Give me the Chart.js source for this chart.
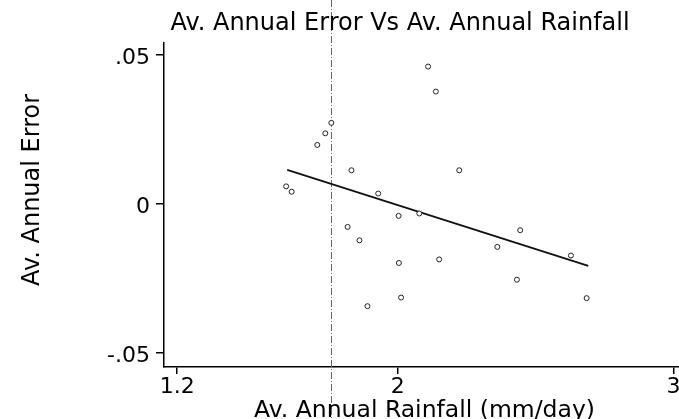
<!DOCTYPE html>
<html>
<head>
<meta charset="utf-8">
<script src="https://cdn.jsdelivr.net/npm/chart.js@4.4.1/dist/chart.umd.min.js"></script>
<style>
  html, body { margin: 0; padding: 0; background: #fff; }
  #wrap { width: 679px; height: 419px; position: relative; }
</style>
</head>
<body>
<div id="wrap"><canvas id="chartE"></canvas></div>
<script>
'use strict'

// values
let rainfall = [2.110, 2.138, 1.759, 1.737, 1.708, 1.832, 2.223, 1.595, 1.615, 1.929, 2.003, 2.078,
                1.818, 1.861, 2.004, 2.150, 1.890, 2.012, 2.444, 2.361, 2.432, 2.628, 2.685];
let annualError = [0.0461, 0.0377, 0.0272, 0.0237, 0.0198, 0.0113, 0.0113, 0.0059, 0.0041, 0.0035, -0.0040, -0.0032,
                   -0.0077, -0.0122, -0.0198, -0.0186, -0.0343, -0.0314, -0.0088, -0.0144, -0.0254, -0.0173, -0.0316];

// fitted line (end points) and the dashed reference line
let fitX = [1.599, 2.691];
let fitY = [0.0114, -0.0208];
let refX = 1.757;

// ticks
let xTicks = [1.2, 2, 3];
let xTickLabels = ['1.2', '2', '3'];
let yTicks = [-0.05, 0, 0.05];
let yTickLabels = ['-.05', '0', '.05'];

// texts
let titulo = 'Av. Annual Error Vs Av. Annual Rainfall';
let xTitulo = 'Av. Annual Rainfall (mm/day)';
let yTitulo = 'Av. Annual Error';

Chart.defaults.font.family = '"DejaVu Sans", sans-serif';
Chart.defaults.color = '#000';

let puntos = rainfall.map(function (v, i) { return { x: v, y: annualError[i] }; });
let recta = fitX.map(function (v, i) { return { x: v, y: fitY[i] }; });

// vertical dash-dot line across the whole picture
const lineaRef = {
    id: 'lineaRef',
    beforeDatasetsDraw(chart) {
        const ctx = chart.ctx;
        const px = Math.round(chart.scales.x.getPixelForValue(refX)) + 0.5;
        ctx.save();
        ctx.strokeStyle = '#666';
        ctx.lineWidth = 1;
        ctx.setLineDash([7, 2, 1, 2]);
        ctx.beginPath();
        ctx.moveTo(px, 0);
        ctx.lineTo(px, chart.height);
        ctx.stroke();
        ctx.restore();
    }
};

// title and axis titles
const textos = {
    id: 'textos',
    afterDraw(chart) {
        const ctx = chart.ctx;
        const area = chart.chartArea;
        ctx.save();
        ctx.fillStyle = '#000';
        ctx.textAlign = 'center';
        ctx.textBaseline = 'alphabetic';

        ctx.font = '24px "DejaVu Sans"';
        ctx.fillText(titulo, 400, 30);

        ctx.font = '23.5px "DejaVu Sans"';
        ctx.fillText(xTitulo, (area.left + area.right) / 2 + 3, 417);

        ctx.translate(39, 190);
        ctx.rotate(-Math.PI / 2);
        ctx.font = '24px "DejaVu Sans"';
        ctx.fillText(yTitulo, 0, 0);
        ctx.restore();
    }
};

const ctx = document.getElementById('chartE').getContext('2d');
const myChart = new Chart(ctx, {
    type: 'scatter',
    data: {
        datasets: [{
            label: 'error',
            data: puntos,
            pointStyle: 'circle',
            pointRadius: 2.5,
            borderWidth: 1,
            borderColor: '#222',
            backgroundColor: '#fff'
        }, {
            type: 'line',
            label: 'fit',
            data: recta,
            showLine: true,
            pointRadius: 0,
            borderColor: '#111',
            borderWidth: 1.8,
            fill: false
        }]
    },
    plugins: [lineaRef, textos],
    options: {
        responsive: true,
        maintainAspectRatio: false,
        devicePixelRatio: 1,
        animation: false,
        layout: {
            autoPadding: false,
            padding: { top: 43, left: 0, right: 0, bottom: 0 }
        },
        plugins: {
            legend: { display: false },
            tooltip: { enabled: false },
            title: { display: false }
        },
        scales: {
            x: {
                type: 'linear',
                min: 1.152,
                max: 3.02,
                afterBuildTicks: function (scale) {
                    scale.ticks = xTicks.map(function (v) { return { value: v }; });
                },
                afterFit: function (scale) {
                    scale.height = 52;
                    scale.paddingLeft = 0;
                    scale.paddingRight = 0;
                },
                ticks: {
                    font: { size: 22 },
                    padding: 0,
                    maxRotation: 0,
                    callback: function (v) { return xTickLabels[xTicks.indexOf(v)]; }
                },
                grid: {
                    drawOnChartArea: false,
                    drawTicks: true,
                    tickLength: 7,
                    color: '#000',
                    lineWidth: 1.5
                },
                border: { display: true, color: '#000', width: 1.5 }
            },
            y: {
                type: 'linear',
                min: -0.0547,
                max: 0.054,
                afterBuildTicks: function (scale) {
                    scale.ticks = yTicks.map(function (v) { return { value: v }; });
                },
                afterFit: function (scale) {
                    scale.width = 164;
                    scale.paddingTop = 0;
                    scale.paddingBottom = 0;
                },
                ticks: {
                    font: { size: 22 },
                    padding: 6,
                    labelOffset: 3,
                    callback: function (v) { return yTickLabels[yTicks.indexOf(v)]; }
                },
                grid: {
                    drawOnChartArea: false,
                    drawTicks: true,
                    tickLength: 8,
                    color: '#000',
                    lineWidth: 1.5
                },
                border: { display: true, color: '#000', width: 1.5 }
            }
        }
    }
});
</script>
</body>
</html>
